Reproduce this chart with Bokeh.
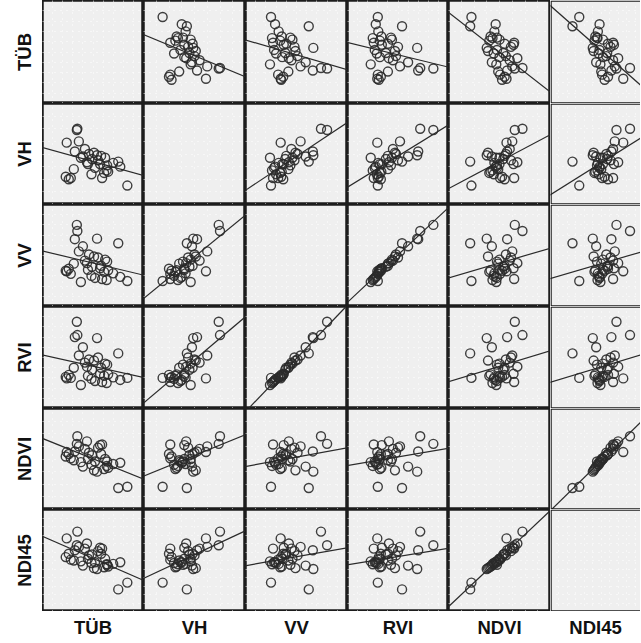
import numpy as np
from bokeh.plotting import figure
from bokeh.layouts import gridplot
from bokeh.models import Range1d, Slope, BasicTicker, BoxAnnotation
from bokeh.embed import file_html
from bokeh.resources import INLINE
from bokeh.core.properties import value

names = ["TÜB", "VH", "VV", "RVI", "NDVI", "NDI45"]

tub = [540, 545, 520, 740, 950, 600, 560, 660, 710, 750, 820, 840, 510, 460, 430,
       480, 690, 770, 810, 850, 900, 970, 1040, 685, 790, 835, 580, 440, 640,
       650, 780, 720, 620]
vh = [-16.1, -16.0, -17.8, -18.1, -18.6, -18.2, -17.0, -18.0, -17.9, -18.5, -18.3,
      -18.9, -19.2, -20.0, -19.8, -19.9, -18.4, -18.8, -19.5, -19.4, -18.7, -19.0,
      -20.5, -19.6, -19.9, -19.3, -18.3, -17.1, -18.65,
      -18.8, -18.15, -19.1, -17.6]
vv = [-8.0, -8.6, -9.4, -9.35, -9.8, -10.1, -10.6, -10.9, -11.1, -11.2, -11.4, -11.6,
      -11.8, -12.3, -12.5, -12.8, -12.1, -12.25, -12.6, -12.45, -12.75, -13.1, -13.5,
      -13.0, -13.3, -13.4, -13.6, -12.55, -11.75,
      -12.4, -12.0, -13.2, -11.5]
rvi = [1.05, 0.92, 0.90, 0.89, 0.74, 0.80, 0.72, 0.68, 0.67, 0.70, 0.64, 0.63, 0.60,
       0.53, 0.51, 0.50, 0.58, 0.54, 0.52, 0.535, 0.505, 0.48, 0.50, 0.49, 0.46, 0.45,
       0.43, 0.495, 0.61,
       0.52, 0.60, 0.47, 0.65]
ndvi = [0.62, 0.68, 0.56, 0.40, 0.27, 0.44, 0.60, 0.55, 0.41, 0.59, 0.50, 0.48, 0.49,
        0.54, 0.52, 0.505, 0.53, 0.61, 0.42, 0.43, 0.46, 0.47, 0.28, 0.455, 0.615,
        0.445, 0.475, 0.555, 0.64,
        0.50, 0.54, 0.48, 0.58]
ndi45 = [0.49, 0.57, 0.46, 0.35, 0.23, 0.37, 0.48, 0.43, 0.355, 0.455, 0.41, 0.375,
         0.40, 0.44, 0.42, 0.405, 0.435, 0.475, 0.36, 0.365, 0.38, 0.39, 0.27, 0.385,
         0.47, 0.378, 0.395, 0.53, 0.50,
         0.41, 0.44, 0.39, 0.47]

data = {"TÜB": tub, "VH": vh, "VV": vv, "RVI": rvi, "NDVI": ndvi, "NDI45": ndi45}
limits = {"TÜB": (200, 1200), "VH": (-22, -14), "VV": (-16, -6),
          "RVI": (0.2, 1.2), "NDVI": (0.1, 0.9), "NDI45": (0.1, 0.7)}

col_w = [101, 102, 102, 101, 102, 90]
row_h = [103, 101, 102, 102, 101, 102]
full_w = 101.5
label_w = 42
label_h = 31
FONT = "Liberation Sans"
BG = "#efefef"
INK = "#2a2a2a"
EDGE = "#1c1c1c"


def label_fig(w, h, text, angle):
    f = figure(width=w, height=h, x_range=Range1d(0, 1), y_range=Range1d(0, 1),
               x_axis_location=None, y_axis_location=None, toolbar_location=None,
               output_backend="svg", min_border=0, outline_line_color=None,
               background_fill_color="white", border_fill_color="white")
    f.grid.visible = False
    f.text(x=[0.56 if angle else 0.5], y=[0.5], text=[text], angle=angle,
           text_align="center", text_baseline="middle", text_font=value(FONT),
           text_font_style="bold", text_font_size="18.5px", text_color="#111111")
    return f


rows = []
for i, yn in enumerate(names):
    r = [label_fig(label_w, row_h[i], yn, np.pi / 2)]
    for j, xn in enumerate(names):
        x0, x1 = limits[xn]
        last = j == len(names) - 1
        if last:
            x1 = x0 + (x1 - x0) * col_w[j] / full_w
        y0, y1 = limits[yn]
        p = figure(width=col_w[j], height=row_h[i], x_range=Range1d(x0, x1),
                   y_range=Range1d(y0, y1), x_axis_location=None,
                   y_axis_location=None, toolbar_location=None,
                   output_backend="svg", min_border=0,
                   background_fill_color=BG, border_fill_color=BG,
                   outline_line_color=None if last else EDGE,
                   outline_line_width=2.5)
        if last:
            dx = (x1 - x0) / col_w[j]
            dy = (y1 - y0) / row_h[i]
            p.add_layout(BoxAnnotation(left=x0 + 0.6 * dx, right=x1 + 20 * dx,
                                       bottom=y0 + 0.6 * dy, top=y1 - 0.6 * dy,
                                       fill_alpha=0, line_color=EDGE,
                                       line_width=1.3, line_alpha=1.0,
                                       level="overlay"))
        p.xgrid.ticker = BasicTicker(desired_num_ticks=10)
        p.ygrid.ticker = BasicTicker(desired_num_ticks=10)
        p.grid.grid_line_color = "white"
        p.grid.grid_line_dash = "1 5"
        p.grid.grid_line_width = 1
        if i != j:
            xs = np.array(data[xn], dtype=float)
            ys = np.array(data[yn], dtype=float)
            b, a = np.polyfit(xs, ys, 1)
            p.add_layout(Slope(gradient=b, y_intercept=a, line_color=INK,
                               line_width=1.2))
            p.scatter(xs, ys, marker="circle", size=9, fill_color=None,
                      line_color=INK, line_width=1.4, line_alpha=0.9)
        r.append(p)
    rows.append(r)

bottom = [None]
for j, xn in enumerate(names):
    bottom.append(label_fig(col_w[j], label_h, xn, 0))
rows.append(bottom)

grid = gridplot(rows, toolbar_location=None)
open("out.html", "w").write(file_html(grid, INLINE))
